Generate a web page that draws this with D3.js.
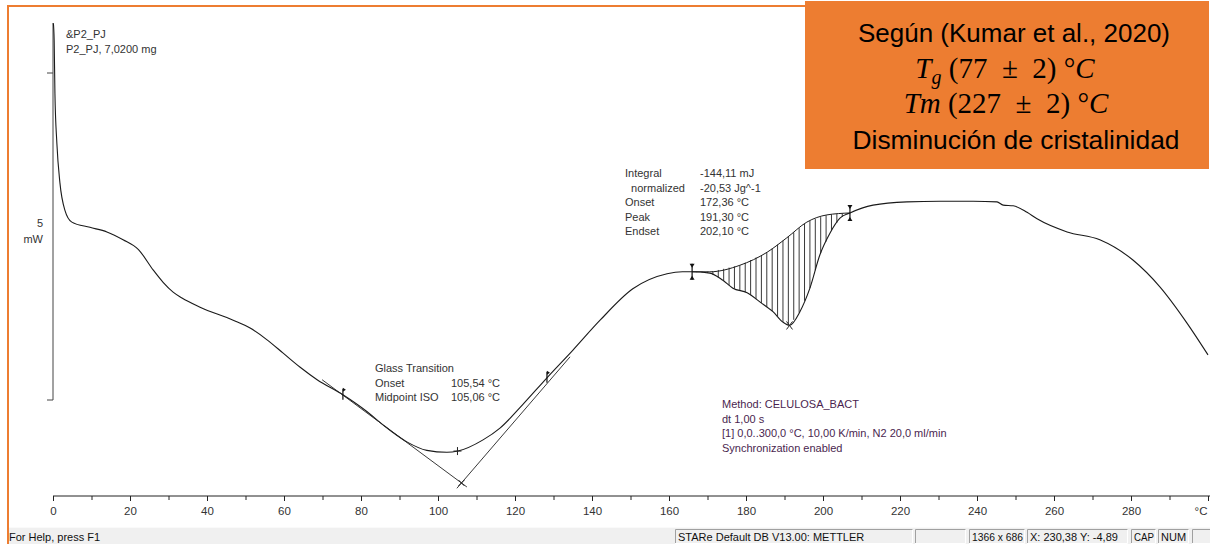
<!DOCTYPE html>
<html><head><meta charset="utf-8">
<script src="https://cdn.jsdelivr.net/npm/d3@7/dist/d3.min.js"></script>
<style>
html,body{margin:0;padding:0;background:#fff;overflow:hidden;}
svg{display:block;}
</style></head><body>
<svg id="c" width="1210" height="544"></svg>
<script>
// ---------- DATA ----------
const temperature = [0.1,0.3,0.5,1.0,1.8,3.1,4.9,9.6,14.0,18.2,22.2,26.0,28.6,31.2,33.5,38.2,46.8,51.2,55.6,59.7,64.2,68.6,75.3,81.6,85.7,91.9,97.1,102.3,105.2,111.7,116.1,122.0,128.3,135.0,142.1,150.6,159.5,163.5,166.0,170.6,174.0,176.6,180.3,183.6,187.0,189.6,191.3,194.0,196.6,199.2,201.8,204.4,207.0,213.0,221.8,230.4,239.0,245.2,246.8,249.4,253.0,255.6,263.4,271.9,280.5,287.5,294.5,300.0];
const heatFlow = [-2.24,-2.50,-3.31,-4.07,-4.68,-5.10,-5.28,-5.36,-5.43,-5.55,-5.70,-6.01,-6.20,-6.35,-6.44,-6.58,-6.78,-6.90,-7.08,-7.28,-7.50,-7.69,-7.92,-8.18,-8.38,-8.64,-8.77,-8.80,-8.78,-8.61,-8.43,-8.07,-7.66,-7.24,-6.78,-6.30,-6.07,-6.04,-6.04,-6.06,-6.17,-6.29,-6.36,-6.50,-6.65,-6.81,-6.86,-6.65,-6.29,-5.78,-5.45,-5.22,-5.14,-5.02,-4.97,-4.96,-4.96,-4.97,-5.02,-5.03,-5.13,-5.23,-5.43,-5.55,-5.86,-6.27,-6.82,-7.31];
const baselineTemp = [166.0,170.6,178.4,185.5,190.6,195.8,201.0,207.0];
const baselineFlow = [-6.04,-6.04,-5.94,-5.74,-5.52,-5.28,-5.17,-5.14];
const tangentLeftTemp = [69.9,107.5];
const tangentLeftFlow = [-7.69,-9.33];
const tangentRightTemp = [104.9,134.3];
const tangentRightFlow = [-9.35,-7.34];
const glassLimits = [75.3,128.3];
const peakLimits = [166.0,207.0];
const glassMidpoint = 105.06;
const peakTemp = 191.30;
const xTickValues = d3.range(0,301,10);
const xTickLabels = ["0","20","40","60","80","100","120","140","160","180","200","220","240","260","280","°C"];
const yScaleBar = [-8,-3];
const yScaleLabel = ["5","mW"];
const sampleLines = ["&P2_PJ","P2_PJ, 7,0200 mg"];
const integralLabels = ["Integral","  normalized","Onset","Peak","Endset"];
const integralValues = ["-144,11 mJ","-20,53 Jg^-1","172,36 °C","191,30 °C","202,10 °C"];
const glassLabels = ["Glass Transition","Onset","Midpoint ISO"];
const glassValues = ["","105,54 °C","105,06 °C"];
const methodLines = ["Method: CELULOSA_BACT","dt 1,00 s","[1] 0,0..300,0 °C, 10,00 K/min, N2 20,0 ml/min","Synchronization enabled"];
const statusPanels = ["STARe Default DB V13.00: METTLER","","1366 x 686","X: 230,38 Y: -4,89","CAP","NUM",""];
const statusHelp = "For Help, press F1";

// ---------- SETUP ----------
const svg = d3.select("#c");
const W = 1210, H = 544;
const x = d3.scaleLinear().domain([0,300]).range([53,1208]);
const y = d3.scaleLinear().domain(yScaleBar).range([400,73]);
const FONT = "'Liberation Sans', Arial, sans-serif";
const ORANGE = "#ED7D31";

svg.append("rect").attr("width",W).attr("height",H).attr("fill","#fff");

function interp(xs, ys, t){
  const i = d3.bisectRight(xs, t);
  if (i<=0) return ys[0];
  if (i>=xs.length) return ys[ys.length-1];
  const f = (t - xs[i-1])/(xs[i]-xs[i-1]);
  return ys[i-1] + f*(ys[i]-ys[i-1]);
}

// ---------- AXES ----------
const xAxis = d3.axisBottom(x)
  .tickValues(xTickValues)
  .tickSizeOuter(0)
  .tickSize(5)
  .tickPadding(6)
  .tickFormat(d => d%20===0 ? xTickLabels[d/20] : "");
const gx = svg.append("g").attr("transform","translate(0,496)").call(xAxis);
gx.select(".domain").attr("stroke","#222").attr("d","M53,0H1210");
gx.selectAll(".tick line").attr("stroke","#222").attr("y2", d => d%20===0 ? 5 : 4);
gx.selectAll(".tick text").attr("font-family",FONT).attr("font-size","11.5px").attr("fill","#333")
  .attr("text-anchor", d => d===300 ? "end" : "middle")
  .attr("dx", d => d===300 ? -1 : 0);

// y scale bar
const gy = svg.append("g");
gy.append("line").attr("x1",53).attr("x2",53).attr("y1",23).attr("y2",y(yScaleBar[0])).attr("stroke","#444");
yScaleBar.forEach(v => gy.append("line").attr("x1",47).attr("x2",53).attr("y1",y(v)).attr("y2",y(v)).attr("stroke","#444"));
gy.append("text").attr("x",43).attr("y",(y(-8)+y(-3))/2 - 10).attr("text-anchor","end")
  .attr("font-family",FONT).attr("font-size","11px").attr("fill","#333").text(yScaleLabel[0]);
gy.append("text").attr("x",43).attr("y",(y(-8)+y(-3))/2 + 6).attr("text-anchor","end")
  .attr("font-family",FONT).attr("font-size","11px").attr("fill","#333").text(yScaleLabel[1]);

// ---------- CURVE ----------
const pts = temperature.map((t,i)=>[t,heatFlow[i]]);
const line = d3.line().x(d=>x(d[0])).y(d=>y(d[1])).curve(d3.curveMonotoneX);
svg.append("path").datum(pts).attr("d",line).attr("fill","none").attr("stroke","#1a1a1a").attr("stroke-width",1.1);

const bpts = baselineTemp.map((t,i)=>[t,baselineFlow[i]]);
svg.append("path").datum(bpts).attr("d",line).attr("fill","none").attr("stroke","#1a1a1a").attr("stroke-width",1);

const hatchT = d3.range(peakLimits[0]+1.2, peakLimits[1]-0.3, 1.4);
svg.append("g").selectAll("line").data(hatchT).join("line")
  .attr("x1",d=>x(d)).attr("x2",d=>x(d))
  .attr("y1",d=>y(interp(baselineTemp,baselineFlow,d)))
  .attr("y2",d=>y(interp(temperature,heatFlow,d)))
  .attr("stroke","#222").attr("stroke-width",0.9);

[[tangentLeftTemp,tangentLeftFlow],[tangentRightTemp,tangentRightFlow]].forEach(([ts,vs])=>{
  svg.append("line").attr("x1",x(ts[0])).attr("y1",y(vs[0])).attr("x2",x(ts[1])).attr("y2",y(vs[1]))
    .attr("stroke","#222").attr("stroke-width",0.9);
});

(function(){
  const p1=[x(tangentLeftTemp[0]),y(tangentLeftFlow[0])], p2=[x(tangentLeftTemp[1]),y(tangentLeftFlow[1])];
  const p3=[x(tangentRightTemp[0]),y(tangentRightFlow[0])], p4=[x(tangentRightTemp[1]),y(tangentRightFlow[1])];
  const d=(p1[0]-p2[0])*(p3[1]-p4[1])-(p1[1]-p2[1])*(p3[0]-p4[0]);
  const a=p1[0]*p2[1]-p1[1]*p2[0], b=p3[0]*p4[1]-p3[1]*p4[0];
  const ix=(a*(p3[0]-p4[0])-(p1[0]-p2[0])*b)/d, iy=(a*(p3[1]-p4[1])-(p1[1]-p2[1])*b)/d;
  svg.append("path").attr("d",`M${ix-3},${iy-3}L${ix+3},${iy+3}M${ix+3},${iy-3}L${ix-3},${iy+3}`).attr("stroke","#222");
})();

(function(){
  const mx=x(glassMidpoint), my=y(interp(temperature,heatFlow,glassMidpoint));
  svg.append("path").attr("d",`M${mx-4},${my}H${mx+4}M${mx},${my-4}V${my+4}`).attr("stroke","#222");
})();

(function(){
  const px=x(peakTemp), py=y(interp(temperature,heatFlow,peakTemp));
  svg.append("path").attr("d",`M${px-3},${py-4}L${px+3},${py+4}M${px+3},${py-4}L${px-3},${py+4}`).attr("stroke","#222");
})();

glassLimits.forEach(t=>{
  const cx=x(t), cy=y(interp(temperature,heatFlow,t));
  svg.append("path").attr("d",`M${cx},${cy-6}V${cy+5}`).attr("stroke","#111").attr("stroke-width",1.2);
  svg.append("path").attr("d",`M${cx},${cy-7}L${cx+3},${cy-5}L${cx},${cy-3}Z`).attr("fill","#111");
});

peakLimits.forEach(t=>{
  const cx=x(t), cy=y(interp(temperature,heatFlow,t));
  svg.append("path").attr("d",`M${cx},${cy-8}V${cy+8}`).attr("stroke","#111").attr("stroke-width",1.2);
  svg.append("path").attr("d",`M${cx-2.5},${cy-8}L${cx+2.5},${cy-8}L${cx},${cy-4}Z`).attr("fill","#111");
  svg.append("path").attr("d",`M${cx-2.5},${cy+8}L${cx+2.5},${cy+8}L${cx},${cy+4}Z`).attr("fill","#111");
});

// ---------- TEXT BLOCKS ----------
function textBlock(lines, x0, y0, dy, color){
  const g = svg.append("g").attr("font-family",FONT).attr("font-size","11px").attr("fill",color);
  lines.forEach((s,i)=> g.append("text").attr("x",x0).attr("y",y0+i*dy).style("white-space","pre").text(s));
}
textBlock(sampleLines, 66, 38, 15, "#333");
textBlock(integralLabels, 625, 177, 14.5, "#333");
textBlock(integralValues, 700, 177, 14.5, "#333");
textBlock(glassLabels, 375, 372, 14.5, "#333");
textBlock(glassValues, 451, 372, 14.5, "#333");
textBlock(methodLines, 722, 408, 14.5, "#4a1f4f");

// ---------- FRAME ----------
svg.append("path").attr("d","M8,544V6H806").attr("fill","none").attr("stroke",ORANGE).attr("stroke-width",2);

// orange note box
const box = svg.append("g");
box.append("rect").attr("x",805).attr("y",1).attr("width",404).attr("height",168).attr("fill",ORANGE);
box.append("text").attr("x",1014).attr("y",42).attr("text-anchor","middle")
  .attr("font-family",FONT).attr("font-size","25px").attr("fill","#000")
  .attr("textLength",312).attr("lengthAdjust","spacingAndGlyphs").text("Según (Kumar et al., 2020)");
const SERIF = "'Liberation Serif','DejaVu Serif',serif";
const t2 = box.append("text").attr("x",1005).attr("y",78).attr("text-anchor","middle")
  .attr("font-family",SERIF).attr("font-size","29px").attr("fill","#000").style("white-space","pre");
t2.append("tspan").attr("font-style","italic").text("T");
t2.append("tspan").attr("font-style","italic").attr("font-size","20px").attr("dy",6).text("g");
t2.append("tspan").attr("dy",-6).text(" (77\u2002±\u20022) °");
t2.append("tspan").attr("font-style","italic").text("C");
const t3 = box.append("text").attr("x",1006).attr("y",113).attr("text-anchor","middle")
  .attr("font-family",SERIF).attr("font-size","29px").attr("fill","#000").style("white-space","pre");
t3.append("tspan").attr("font-style","italic").text("Tm");
t3.append("tspan").text(" (227\u2002±\u20022) °");
t3.append("tspan").attr("font-style","italic").text("C");
box.append("text").attr("x",1016).attr("y",149).attr("text-anchor","middle")
  .attr("font-family",FONT).attr("font-size","25px").attr("fill","#000")
  .attr("textLength",327).attr("lengthAdjust","spacingAndGlyphs").text("Disminución de cristalinidad");

// ---------- STATUS BAR ----------
const sb = svg.append("g");
sb.append("rect").attr("x",9).attr("y",527).attr("width",W-9).attr("height",17).attr("fill","#f0f0f0");
sb.append("line").attr("x1",9).attr("x2",W).attr("y1",527.5).attr("y2",527.5).attr("stroke","#fafafa");
sb.append("text").attr("x",9).attr("y",541).attr("font-family",FONT).attr("font-size","11px").attr("fill","#111").text(statusHelp);
const panelX = [675,915,969,1027,1131,1158,1192];
const panelW = [238,51,56,101,25,31,20];
statusPanels.forEach((s,i)=>{
  sb.append("path").attr("d",`M${panelX[i]+0.5},${543}V${529.5}H${panelX[i]+panelW[i]}`).attr("fill","none").attr("stroke","#a0a0a0");
  sb.append("path").attr("d",`M${panelX[i]+panelW[i]-0.5},${529.5}V${543.5}H${panelX[i]}`).attr("fill","none").attr("stroke","#ffffff");
  if (s) {
    const t = sb.append("text").attr("x",panelX[i]+3).attr("y",541).attr("font-family",FONT).attr("font-size","11px").attr("fill","#111").text(s);
    const w = t.node().getComputedTextLength();
    if (w > panelW[i]-5) t.attr("textLength",panelW[i]-5).attr("lengthAdjust","spacingAndGlyphs");
  }
});
</script>
</body></html>
